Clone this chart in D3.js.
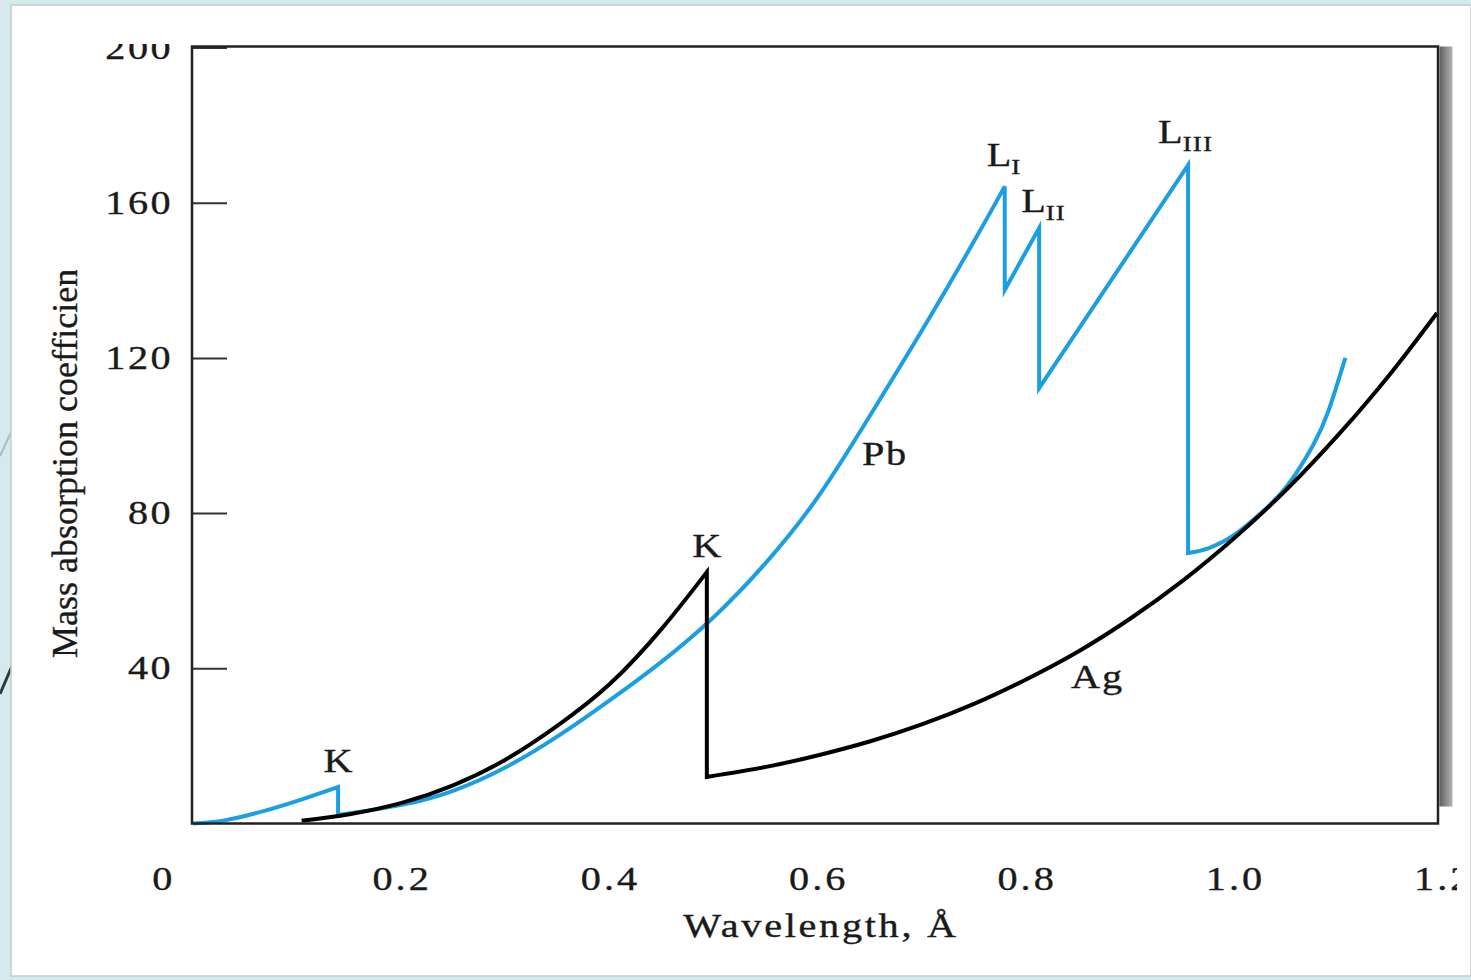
<!DOCTYPE html>
<html>
<head>
<meta charset="utf-8">
<script src="https://cdnjs.cloudflare.com/ajax/libs/d3/7.8.5/d3.min.js"></script>
<style>
  body { margin: 0; background: #d6eaee; }
  text { font-family: "Liberation Serif", "Times New Roman", serif; fill: #1a1a1a; stroke: #1a1a1a; stroke-width: 0.35px; }
</style>
</head>
<body>
<div id="chart"></div>
<script>
var svgWidth = 1471;
var svgHeight = 980;

// plot box of the figure
var box = {left: 192, right: 1438, top: 46.5, bottom: 823.5};
var stretch = 1.22; // the scanned figure is a bit wider than tall

// tick values
var xTicks = [0.2, 0.4, 0.6, 0.8, 1.0, 1.2];
var yTicks = [40, 80, 120, 160, 200];

// Pb curve, split at the absorption edges: [wavelength (A), coefficient]
var pbBelowK = [[0, 0], [0.03, 0.8], [0.07, 3.4], [0.105, 6.3], [0.139, 9.4]];
var pbKtoL1 = [[0.139, 2.2], [0.2, 4.8], [0.25, 8.5], [0.3, 14.5], [0.35, 22.5], [0.4, 31.8],
  [0.45, 41.8], [0.5, 53.3], [0.55, 67.3], [0.6, 84.3], [0.65, 105.3], [0.7, 127.3],
  [0.75, 150.3], [0.779, 164.2]];
var pbL1toL2 = [[0.779, 137.5], [0.812, 153.5]];
var pbL2toL3 = [[0.812, 112.2], [0.955, 169.7]];
var pbAboveL3 = [[0.955, 69.7], [0.975, 71], [1.0, 74.5], [1.025, 80], [1.05, 87],
  [1.075, 97.5], [1.09, 106.5], [1.106, 120]];

// Ag curve
var agBelowK = [[0.104, 0.7], [0.15, 2.4], [0.2, 5.3], [0.25, 9.9], [0.3, 16.5], [0.35, 25.3],
  [0.4, 36], [0.45, 50.3], [0.493, 64.8]];
var agAboveK = [[0.493, 12], [0.55, 14.6], [0.6, 17.6], [0.65, 21.2], [0.7, 25.6], [0.75, 30.9],
  [0.8, 37.2], [0.85, 44.4], [0.9, 52.9], [0.95, 62.6], [1.0, 73.7], [1.05, 86.2],
  [1.1, 100.4], [1.15, 116.2], [1.194, 131.6]];

// edge labels sit just above the edge tops
var edgeLabels = [
  {main: "K", sub: "", at: [0.139, 9.4], dx: 0, dy: -15, anchor: "middle"},
  {main: "K", sub: "", at: [0.493, 64.8], dx: 0, dy: -15, anchor: "middle"},
  {main: "L", sub: "I", at: [0.779, 164.2], dx: -18, dy: -20, anchor: "start"},
  {main: "L", sub: "II", at: [0.812, 153.5], dx: -18, dy: -16, anchor: "start"},
  {main: "L", sub: "III", at: [0.955, 169.7], dx: -30, dy: -22, anchor: "start"}
];
var seriesLabels = [
  {text: "Pb", at: [0.664, 92.4]},
  {text: "Ag", at: [0.868, 34.9]}
];

var svg = d3.select("#chart").append("svg")
  .attr("width", svgWidth)
  .attr("height", svgHeight);

var defs = svg.append("defs");
defs.append("clipPath").attr("id", "clipTop")
  .append("rect").attr("x", -300).attr("y", 44).attr("width", 2000).attr("height", 1000);
defs.append("clipPath").attr("id", "clipRight")
  .append("rect").attr("x", 0).attr("y", 0).attr("width", 1457).attr("height", svgHeight);
defs.append("clipPath").attr("id", "clipTitle")
  .append("rect").attr("x", 0).attr("y", 270).attr("width", 200).attr("height", 700);
var grad = defs.append("linearGradient").attr("id", "shadow");
grad.append("stop").attr("offset", "0%").attr("stop-color", "#5e5e5e");
grad.append("stop").attr("offset", "100%").attr("stop-color", "#b5b5b5");

// slide background and white page
svg.append("rect").attr("width", svgWidth).attr("height", svgHeight).attr("fill", "#d6eaee");
svg.append("line").attr("x1", 0).attr("y1", 456).attr("x2", 13).attr("y2", 428)
  .attr("stroke", "#a9b9bc").attr("stroke-width", 2);
svg.append("line").attr("x1", 0).attr("y1", 694).attr("x2", 12).attr("y2", 666)
  .attr("stroke", "#2c3a40").attr("stroke-width", 3);
svg.append("rect").attr("x", 11).attr("y", 5).attr("width", svgWidth - 11).attr("height", 971)
  .attr("fill", "#fff").attr("stroke", "#c2ccce").attr("stroke-width", 1.5);

var x = d3.scaleLinear().domain([0, 1.2]).range([193.3, 1443.3]);
var y = d3.scaleLinear().domain([0, 200]).range([823.5, 47.5]);

// shadow to the right of the frame
svg.append("rect")
  .attr("x", box.right + 1.5).attr("y", box.top)
  .attr("width", 13).attr("height", 760)
  .attr("fill", "url(#shadow)");

// axes
var xAxis = svg.append("g")
  .attr("transform", `translate(0, ${box.bottom})`)
  .attr("clip-path", "url(#clipRight)")
  .call(d3.axisBottom(x).tickValues(xTicks).tickFormat(d3.format(".1f"))
    .tickSize(-25).tickPadding(43));
xAxis.attr("font-size", 33).attr("font-family", null);
xAxis.select(".domain").remove();
xAxis.selectAll(".tick line").attr("stroke", "#333").attr("stroke-width", 2);
xAxis.selectAll(".tick").filter(d => d > 1.1).select("line").remove();
xAxis.selectAll(".tick text")
  .attr("fill", null)
  .attr("letter-spacing", 2.5)
  .attr("transform", `scale(${stretch},1)`);

// corner "0" of the wavelength axis
svg.append("text")
  .attr("transform", `translate(${x(0) - 31}, 890) scale(${stretch},1)`)
  .attr("text-anchor", "middle")
  .attr("font-size", 33)
  .text("0");

var yAxis = svg.append("g")
  .attr("transform", `translate(${box.left}, 0)`)
  .attr("clip-path", "url(#clipTop)")
  .call(d3.axisLeft(y).tickValues(yTicks).tickSize(-35).tickPadding(19));
yAxis.attr("font-size", 33).attr("font-family", null);
yAxis.select(".domain").remove();
yAxis.selectAll(".tick line").attr("stroke", "#333").attr("stroke-width", 2);
yAxis.selectAll(".tick text")
  .attr("fill", null)
  .attr("letter-spacing", 2)
  .attr("x", -19 / stretch)
  .attr("transform", `scale(${stretch},1)`);

// curves
var line = d3.line()
  .x(d => x(d[0]))
  .y(d => y(d[1]))
  .curve(d3.curveNatural);

// join the pieces so the edges become vertical drops
function edgePath(pieces) {
  return pieces.map(function(p, i) {
    var s = line(p);
    return i === 0 ? s : "L" + s.slice(1);
  }).join("");
}

svg.append("path")
  .attr("d", edgePath([pbBelowK, pbKtoL1, pbL1toL2, pbL2toL3, pbAboveL3]))
  .attr("fill", "none")
  .attr("stroke", "#1c9fe2")
  .attr("stroke-width", 4)
  .attr("stroke-linejoin", "miter");

svg.append("path")
  .attr("d", edgePath([agBelowK, agAboveK]))
  .attr("fill", "none")
  .attr("stroke", "#000")
  .attr("stroke-width", 4)
  .attr("stroke-linejoin", "miter");

// frame
svg.append("rect")
  .attr("x", box.left).attr("y", box.top)
  .attr("width", box.right - box.left).attr("height", box.bottom - box.top)
  .attr("fill", "none")
  .attr("stroke", "#222")
  .attr("stroke-width", 2.5);

// edge labels
edgeLabels.forEach(function(l) {
  var t = svg.append("text")
    .attr("transform", `translate(${x(l.at[0]) + l.dx}, ${y(l.at[1]) + l.dy}) scale(${stretch},1)`)
    .attr("text-anchor", l.anchor)
    .attr("font-size", 33)
    .text(l.main);
  if (l.sub) {
    t.append("tspan")
      .attr("font-size", 22)
      .attr("dy", 8)
      .attr("letter-spacing", 1)
      .text(l.sub);
  }
});

seriesLabels.forEach(function(l) {
  svg.append("text")
    .attr("transform", `translate(${x(l.at[0])}, ${y(l.at[1])}) scale(${stretch},1)`)
    .attr("text-anchor", "middle")
    .attr("font-size", 33)
    .attr("letter-spacing", 1.5)
    .text(l.text);
});

// axis titles
svg.append("text")
  .attr("transform", `translate(821, 937) scale(${stretch},1)`)
  .attr("text-anchor", "middle")
  .attr("font-size", 33)
  .attr("letter-spacing", 2.2)
  .text("Wavelength, Å");

svg.append("g")
  .attr("clip-path", "url(#clipTitle)")
  .append("text")
  .attr("transform", "translate(77, 658) rotate(-90)")
  .attr("font-size", 36)
  .attr("stroke-width", 0.2)
  .text("Mass absorption coefficient");
</script>
</body>
</html>
